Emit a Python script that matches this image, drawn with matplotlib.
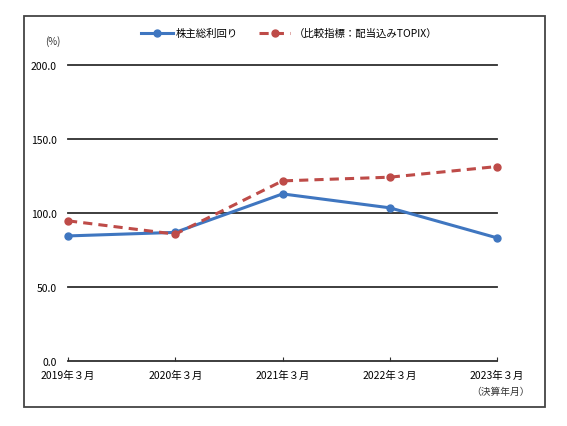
import matplotlib.pyplot as plt
from matplotlib.patches import Rectangle

plt.rcParams['font.family'] = ['Noto Sans CJK JP', 'DejaVu Sans']

# data
years = ['2019年３月', '2020年３月', '2021年３月', '2022年３月', '2023年３月']
tsr = [84.6, 87.0, 113.0, 103.6, 83.3]
topix = [94.8, 85.8, 121.8, 124.3, 131.5]

fig = plt.figure(figsize=(5.67, 4.27), dpi=100)
ax = fig.add_axes([0.12, 0.152, 0.7565, 0.693])

x = range(len(years))
for v in [50, 100, 150, 200]:
    ax.axhline(v, color='#2e2e2e', lw=1.3, zorder=1, clip_on=False)

ax.plot(x, tsr, color='#3F76C0', lw=2.2, marker='o', ms=5,
        label='株主総利回り', zorder=3, clip_on=False)
ax.plot(x, topix, color='#BE4B48', lw=2.2, ls=(0, (3, 2)), marker='o', ms=5,
        label='（比較指標：配当込みTOPIX）', zorder=3, clip_on=False)

ax.set_xlim(0, 4)
ax.set_ylim(0, 200)
ax.set_yticks([0, 50, 100, 150, 200])
ax.set_yticklabels(['0.0', '50.0', '100.0', '150.0', '200.0'])
ax.set_xticks(list(x))
ax.set_xticklabels(years)
for s in ['top', 'right', 'left']:
    ax.spines[s].set_visible(False)
ax.spines['bottom'].set_color('#2e2e2e')
ax.spines['bottom'].set_linewidth(1.3)
ax.tick_params(axis='y', length=0, pad=8, labelsize=7.5)
ax.tick_params(axis='x', direction='in', length=3, color='#2e2e2e',
               pad=6, labelsize=7.5)

fig.text(0.079, 0.902, '(%)', fontsize=7, color='#333333', va='center')
fig.text(0.935, 0.082, '（決算年月）', fontsize=7, color='#333333',
         ha='right', va='center')

ax.legend(loc='center', bbox_to_anchor=(0.51, 0.92), bbox_transform=fig.transFigure,
          ncol=2, frameon=False, fontsize=7.5, handlelength=3.0,
          columnspacing=2.0, handletextpad=0.3)

fig.patches.append(Rectangle((24 / 567, 1 - 408 / 427), 521 / 567, 391 / 427,
                             transform=fig.transFigure, fill=False,
                             edgecolor='#444444', lw=1.3))

fig.savefig('out.png', dpi=100)
